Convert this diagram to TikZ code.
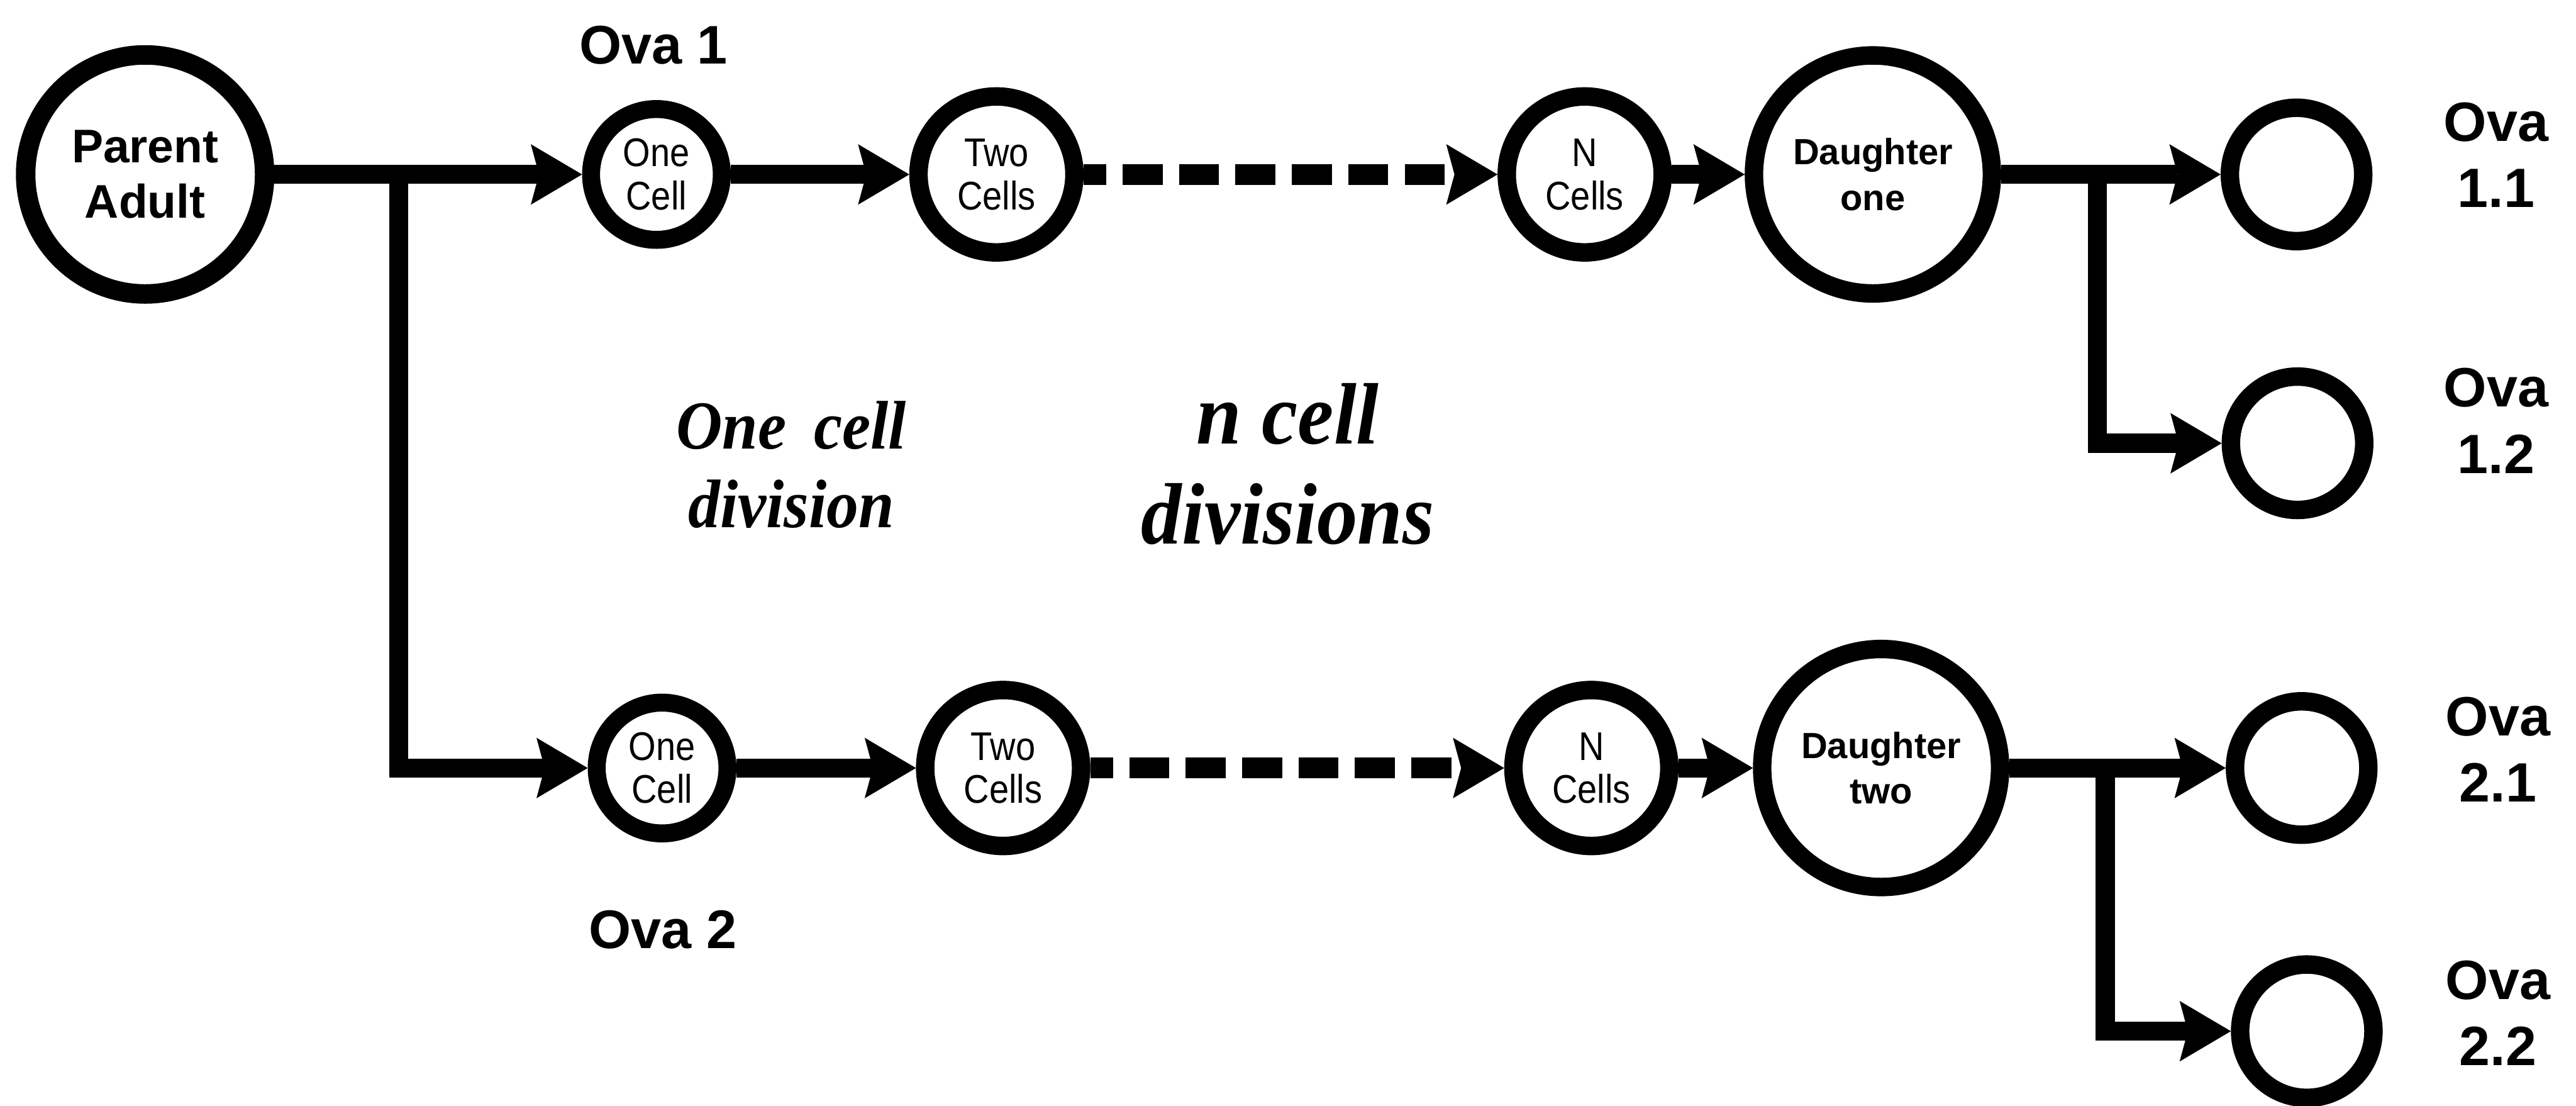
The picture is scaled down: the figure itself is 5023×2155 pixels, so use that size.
\documentclass[tikz,border=0pt]{standalone}
\usepackage{fontspec}
\setmainfont{Liberation Serif}
\newfontfamily\sansfont{Liberation Sans}
\newfontfamily\narrowsans[FakeStretch=0.88]{Liberation Sans}
\newfontfamily\divfont[FakeStretch=0.93]{Liberation Serif}
\usetikzlibrary{arrows.meta}

\begin{document}
\begin{tikzpicture}[x=0.1pt,y=-0.1pt,
  ring/.style={circle, draw, inner sep=0pt, align=center},
  parentring/.style={ring, line width=3.8pt, minimum size=46.6pt,
    font=\sansfont\bfseries\fontsize{9.2}{10.8}\selectfont},
  smallcell/.style={ring, line width=3.5pt, minimum size=25.5pt,
    font=\narrowsans\fontsize{7.8}{8.4}\selectfont},
  midcell/.style={ring, line width=3.6pt, minimum size=30.4pt,
    font=\narrowsans\fontsize{7.8}{8.4}\selectfont},
  daughterring/.style={ring, line width=3.6pt, minimum size=46.4pt,
    font=\sansfont\bfseries\fontsize{7.1}{8.9}\selectfont},
  ovum/.style={ring, line width=3.6pt, minimum size=26pt},
  ovalabel/.style={inner sep=0pt, align=center,
    font=\sansfont\bfseries\fontsize{10.8}{12.9}\selectfont},
  ovaname/.style={inner sep=0pt, font=\sansfont\bfseries\fontsize{10.6}{12}\selectfont},
  divsmall/.style={inner sep=0pt, align=center,
    font=\divfont\bfseries\itshape\fontsize{13.4}{15.3}\selectfont},
  divlarge/.style={inner sep=0pt, align=center,
    font=\divfont\bfseries\itshape\fontsize{17}{19.5}\selectfont},
  tip/.tip={Stealth[length=10pt,width=11.8pt,inset=1.6pt,line width=0pt]},
  conn/.style={line width=3.7pt, -tip},
  dashconn/.style={line width=4pt, -tip,
    dash pattern=on 7.8pt off 3.2pt, dash phase=3.4pt},
]
\useasboundingbox (0,0) rectangle (5023,2155);

% parent
\node[parentring] (parent) at (283,340) {Parent\\Adult};

% first ovum line
\node[smallcell] (one1) at (1280,340) {One\\Cell};
\node[midcell] (two1) at (1943,340) {Two\\Cells};
\node[midcell] (n1) at (3090,340) {N\\Cells};
\node[daughterring] (d1) at (3652,340) {Daughter\\one};
\node[ovum] (o11) at (4478,340) {};
\node[ovum] (o12) at (4480,864) {};

% second ovum line
\node[smallcell] (one2) at (1291,1497) {One\\Cell};
\node[midcell] (two2) at (1956,1497) {Two\\Cells};
\node[midcell] (n2) at (3103,1497) {N\\Cells};
\node[daughterring] (d2) at (3668,1497) {Daughter\\two};
\node[ovum] (o21) at (4488,1497) {};
\node[ovum] (o22) at (4498,2010) {};

% labels
\node[ovaname] (lab1) at (1274,88) {Ova 1};
\node[ovaname] (lab2) at (1293,1812) {Ova 2};
\node[ovalabel] (lab11) at (4867,302) {Ova\\1.1};
\node[ovalabel] (lab12) at (4867,820) {Ova\\1.2};
\node[ovalabel] (lab21) at (4871,1461) {Ova\\2.1};
\node[ovalabel] (lab22) at (4871,1975) {Ova\\2.2};
\node[divsmall] (onediv) at (1543,906) {One\hspace{0.4em}cell\\division};
\node[divlarge] (ndiv) at (2511,905) {n cell\\divisions};

% branch points
\coordinate (split1) at (777,340);
\coordinate (split3) at (4090,340);
\coordinate (split4) at (4105,1497);

% connectors
\draw[conn] (parent) -- (one1);
\draw[conn] (split1) |- (one2);
\draw[conn] (one1) -- (two1);
\draw[dashconn] (two1) -- (n1);
\draw[conn] (n1) -- (d1);
\draw[conn] (d1) -- (o11);
\draw[conn] (split3) |- (o12);

\draw[conn] (one2) -- (two2);
\draw[dashconn] (two2) -- (n2);
\draw[conn] (n2) -- (d2);
\draw[conn] (d2) -- (o21);
\draw[conn] (split4) |- (o22);
\end{tikzpicture}
\end{document}
